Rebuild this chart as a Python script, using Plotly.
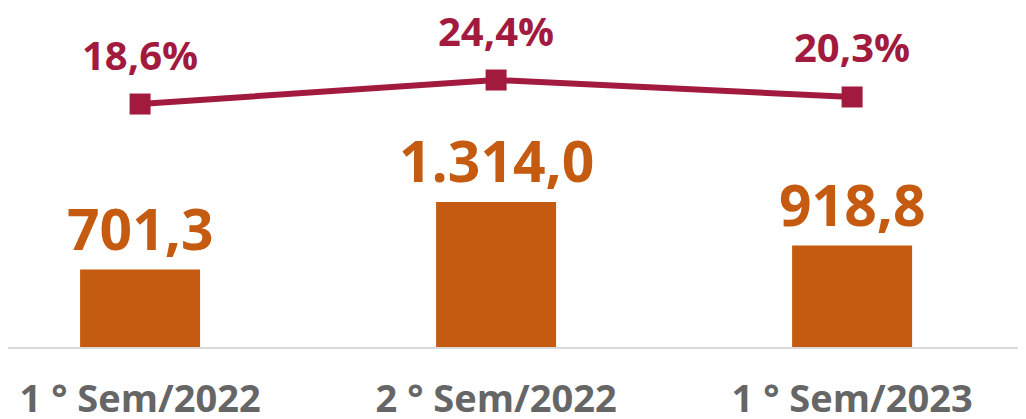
import plotly.graph_objects as go

categories = ["1 ° Sem/2022", "2 ° Sem/2022", "1 ° Sem/2023"]
bar_values = [701.3, 1314.0, 918.8]
pct_values = [18.6, 24.4, 20.3]

BAR_COLOR = "#C55A11"
LINE_COLOR = "#A21A3E"
FONT = "Open Sans"


def fmt_num(v):
    s = f"{v:,.1f}"
    return s.replace(",", "X").replace(".", ",").replace("X", ".")


def fmt_pct(v):
    return f"{v:.1f}".replace(".", ",") + "%"


x = list(range(len(categories)))

fig = go.Figure()
fig.add_trace(go.Bar(
    x=x, y=bar_values, width=0.337, marker=dict(color=BAR_COLOR, line=dict(width=0)),
    yaxis="y", hoverinfo="skip",
))
fig.add_trace(go.Scatter(
    x=x, y=pct_values, mode="lines+markers", yaxis="y2",
    line=dict(color=LINE_COLOR, width=6),
    marker=dict(symbol="square", size=21, color=LINE_COLOR),
    hoverinfo="skip",
))

annotations = []
for xi, v in zip(x, bar_values):
    annotations.append(dict(
        x=xi, y=v, xref="x", yref="y", text=fmt_num(v), showarrow=False,
        yanchor="middle", yshift=42,
        font=dict(family=FONT, size=57, color=BAR_COLOR, weight="bold"),
    ))
for xi, v in zip(x, pct_values):
    annotations.append(dict(
        x=xi, y=v, xref="x", yref="y2", text=fmt_pct(v), showarrow=False,
        yanchor="middle", yshift=50,
        font=dict(family=FONT, size=40, color=LINE_COLOR, weight="bold"),
    ))

fig.update_layout(
    width=1010, height=411,
    margin=dict(l=0, r=0, t=0, b=72, autoexpand=False),
    paper_bgcolor="white", plot_bgcolor="white",
    showlegend=False,
    xaxis=dict(
        tickmode="array", tickvals=x, ticktext=categories,
        range=[-0.371, 2.466], showgrid=False, zeroline=False,
        showline=True, linecolor="#D9D9D9", linewidth=2, ticks="",
        tickfont=dict(family=FONT, size=38, color="#666666", weight="bold"),
        ticklabelstandoff=17, automargin=False,
    ),
    yaxis=dict(range=[0, 3071], visible=False, fixedrange=True, automargin=False),
    yaxis2=dict(range=[-40.1, 41.8], overlaying="y", visible=False),
    annotations=annotations,
)

fig.write_html("out.html")
